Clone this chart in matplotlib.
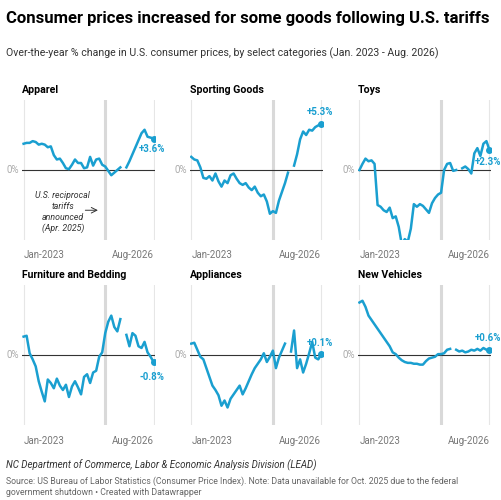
import numpy as np
import matplotlib
matplotlib.use("Agg")
import matplotlib.pyplot as plt

nan = np.nan
categories = ["Apparel", "Sporting Goods", "Toys", "Furniture and Bedding", "Appliances", "New Vehicles"]
apparel = [3.0,3.1,3.1,3.3,3.2,2.9,3.0,2.9,2.6,2.7,1.7,1.2,1.3,0.8,0.2,0.1,0.6,1.2,0.8,0.8,0.2,0.3,1.5,0.5,1.2,1.3,0.6,0.4,
           -0.1,-0.6,-0.3,0.0,0.3,nan,0.3,1.0,1.8,2.6,3.4,4.2,4.6,3.8,3.7,3.6]
sporting = [1.5,1.2,1.1,0.3,-0.9,-1.0,-0.7,-1.2,-0.4,-1.3,-1.9,-1.2,-1.5,-0.6,-0.4,-1.0,-1.5,-1.7,-1.5,-2.0,-2.3,-1.9,-2.6,-3.0,
            -2.8,-3.6,-5.0,-4.7,-4.9,-3.5,-2.5,-1.5,-0.3,nan,0.5,1.8,3.5,4.4,4.0,4.6,4.5,4.9,5.1,5.3]
toys = [0.0,0.7,1.3,1.0,1.1,0.7,-4.0,-4.2,-4.6,-4.8,-4.3,-5.5,-5.3,-6.5,-8.5,-7.9,-8.2,-6.7,-3.9,-4.2,-3.9,-4.1,-4.5,-4.9,
        -3.8,-3.2,-2.8,-2.6,0.0,0.7,0.8,-0.1,0.0,nan,0.2,0.4,0.1,-0.4,1.9,2.5,1.6,3.0,3.3,2.3]
furniture = [2.1,2.2,0.2,-0.5,-1.3,-3.0,-4.2,-5.3,-2.8,-3.2,-3.8,-2.7,-3.5,-4.0,-3.4,-4.8,-3.6,-3.0,-3.7,-4.5,-2.5,-2.2,-3.2,-2.0,
             -1.8,-0.2,0.3,2.5,3.8,4.5,3.2,2.7,4.1,nan,2.3,1.0,2.5,2.2,1.0,0.8,1.5,0.3,-0.2,-0.8]
appliances = [1.3,1.4,0.6,-0.2,-0.5,-1.5,-2.5,-3.5,-4.0,-4.6,-5.8,-5.2,-6.0,-5.0,-4.5,-4.0,-3.5,-4.5,-3.8,-3.0,-2.2,-1.5,-1.0,-0.5,
              0.2,-0.8,-0.2,0.5,-1.5,-0.3,0.5,1.3,nan,0.4,2.8,-1.5,-0.5,-2.0,-1.0,0.2,1.5,-0.3,-0.5,0.1]
vehicles = [6.0,6.2,5.5,4.5,4.0,3.5,3.0,2.5,2.0,1.5,1.0,0.3,0.1,-0.3,-0.6,-0.8,-0.9,-0.9,-1.0,-1.0,-1.1,-1.1,-0.7,-0.4,
            -0.3,-0.2,0.1,0.1,0.2,0.6,0.7,nan,0.6,0.4,0.5,0.3,0.4,0.6,0.5,0.7,0.5,0.8,0.6,0.6]
series = [apparel, sporting, toys, furniture, appliances, vehicles]
end_labels = ["+3.6%", "+5.3%", "+2.3%", "-0.8%", "+0.1%", "+0.6%"]
tick_labels = ["Jan-2023", "Aug-2026"]
tariff_idx = 27

blue = "#1a9fd0"
fig = plt.figure(figsize=(5.02, 5.0), dpi=100)
fig.text(0.012, 0.978, "Consumer prices increased for some goods following U.S. tariffs",
         fontsize=12, fontweight="bold", va="top", family="Roboto")
fig.text(0.012, 0.893, "Over-the-year % change in U.S. consumer prices, by select categories (Jan. 2023 - Aug. 2026)",
         fontsize=7.6, va="center", color="#333333", family="Roboto")

lefts = [0.044, 0.378, 0.713]
bottoms = [0.52, 0.15]
for i, (cat, vals, lab) in enumerate(zip(categories, series, end_labels)):
    r, c = divmod(i, 3)
    ax = fig.add_axes([lefts[c], bottoms[r], 0.265, 0.28])
    n = len(vals)
    x = np.arange(n)
    ax.set_xlim(-0.5, n - 0.5)
    ax.set_ylim(-8, 8)
    for s in ax.spines.values():
        s.set_visible(False)
    ax.set_yticks([])
    ax.set_xticks([])
    ax.axvline(0, color="#e6e6e6", lw=0.8, zorder=0)
    ax.axvline(n - 1, color="#e6e6e6", lw=0.8, zorder=0)
    ax.axvline(tariff_idx, color="#d9d9d9", lw=2.2, zorder=0)
    ax.axhline(0, color="#333333", lw=0.8, zorder=1)
    ax.plot(x, vals, color=blue, lw=1.8, zorder=2)
    ax.plot(x[-1], vals[-1], "o", color=blue, ms=4, zorder=3)
    dy = {0: -1.2, 1: 1.3, 2: -1.4, 3: -1.7, 4: 1.3, 5: 1.3}[i]
    ax.text(x[-1] - 0.5, vals[-1] + dy, lab, color=blue, fontsize=7, fontweight="bold",
            ha="center", va="center", family="Roboto", clip_on=False)
    ax.text(-1.5, 0, "0%", ha="right", va="center", fontsize=7, color="#aaaaaa", family="Roboto")
    ax.text(0, -9.2, tick_labels[0], ha="left", va="top", fontsize=7, color="#777777", family="Roboto")
    ax.text(n - 1, -9.2, tick_labels[1], ha="right", va="top", fontsize=7, color="#777777", family="Roboto")
    ax.text(-0.5, 8.6, cat, ha="left", va="bottom", fontsize=7.6, fontweight="bold", family="Roboto")
    if i == 0:
        ax.text(13, -4.8, "U.S. reciprocal\ntariffs\nannounced\n(Apr. 2025)", ha="center", va="center",
                fontsize=6.3, style="italic", color="#333333", family="Roboto", linespacing=1.3)
        ax.annotate("", xy=(tariff_idx - 1.5, -4.6), xytext=(19.5, -4.6),
                    arrowprops=dict(arrowstyle="->", color="#333333", lw=0.7))

fig.text(0.012, 0.07, "NC Department of Commerce, Labor & Economic Analysis Division (LEAD)",
         fontsize=7, style="italic", color="#333333", family="Roboto", va="center")
fig.text(0.012, 0.026, "Source: US Bureau of Labor Statistics (Consumer Price Index). Note: Data unavailable for Oct. 2025 due to the federal\ngovernment shutdown \u2022 Created with Datawrapper",
         fontsize=6.3, color="#666666", family="Roboto", va="center", linespacing=1.3)
fig.savefig("out.png", dpi=100)
